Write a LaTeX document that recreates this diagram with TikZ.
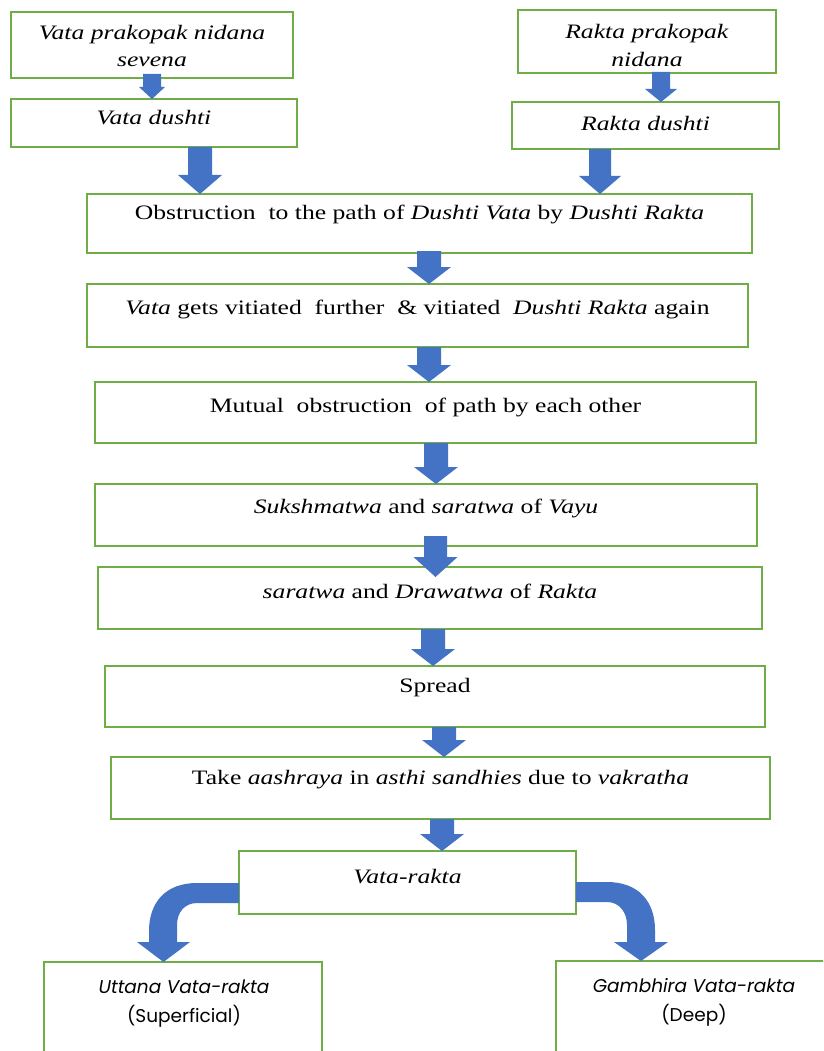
\documentclass[tikz,border=0pt]{standalone}
\usepackage{fontspec}
\setmainfont{Liberation Serif}[FakeStretch=1.25]
\newfontfamily\gothic{Poppins}
\usetikzlibrary{calc}
\definecolor{boxgreen}{HTML}{70AD47}
\definecolor{arrblue}{HTML}{4472C4}
\tikzset{
  box/.style={draw=boxgreen, line width=1.4pt, fill=white, inner sep=0pt, outer sep=0pt, anchor=north west},
  txt/.style={align=center, font=\fontsize{20.5}{27.5}\selectfont, inner sep=0pt},
  gtxt/.style={align=center, font=\gothic\fontsize{18.5}{29}\selectfont, inner sep=0pt},
  arr/.style={fill=arrblue},
}
% box: name, x1, y1, x2, y2 (pixels, y downwards)
\newcommand\mkbox[5]{\node[box, minimum width={#4pt-#2pt}, minimum height={#5pt-#3pt}] (#1) at (#2,-#3) {};}
% straight block arrow: from, to, x, shaft half, head half, head length, top extension, tip overshoot
\newcommand\varrow[8]{\fill[arr] let \p1=(#1.south), \p2=(#2.north) in
  ({#3pt-#4pt},{\y1+#7pt}) -- ({#3pt+#4pt},{\y1+#7pt}) -- ({#3pt+#4pt},{\y2-#8pt+#6pt}) -- ({#3pt+#5pt},{\y2-#8pt+#6pt})
  -- (#3pt,{\y2-#8pt}) -- ({#3pt-#5pt},{\y2-#8pt+#6pt}) -- ({#3pt-#4pt},{\y2-#8pt+#6pt}) -- cycle;}
\begin{document}
\begin{tikzpicture}[x=1pt,y=1pt]
\useasboundingbox (0,0) rectangle (823,-1051);
\clip (0,0) rectangle (823,-1051);
\fill[white] (0,0) rectangle (823,-1051);

\mkbox{b1}{11}{12}{293}{78}
\mkbox{b2}{518}{10}{776}{73}
\mkbox{b3}{11}{99}{297}{147}
\mkbox{b4}{512}{102}{779}{149}
\mkbox{b5}{87}{194}{752}{253}
\mkbox{b6}{87}{284}{748}{347}
\mkbox{b7}{95}{382}{756}{443}
\mkbox{b8}{95}{484}{757}{546}
\mkbox{b9}{98}{567}{762}{629}
\mkbox{b10}{105}{666}{765}{727}
\mkbox{b11}{111}{757}{770}{819}
\mkbox{b12}{239}{851}{576}{914}
\mkbox{b13}{44}{962}{322}{1080}
\mkbox{b14}{556}{961}{830}{1080}

\node[txt] (t1) at (152,-46) {\textit{Vata prakopak nidana}\\\textit{sevena}};
\node[txt] (t2) at (647,-45.5) {\textit{Rakta prakopak}\\\textit{nidana}};
\node[txt] (t3) at (154,-118) {\textit{Vata dushti}};
\node[txt] (t4) at (645.5,-124) {\textit{Rakta dushti}};
\node[txt] (t5) at (419.5,-214) {Obstruction\ \ to the path of \textit{Dushti Vata} by \textit{Dushti Rakta}};
\node[txt] (t6) at (417.5,-309) {\textit{Vata} gets vitiated\ \ further\ \ \& vitiated\ \ \textit{Dushti Rakta} again};
\node[txt] (t7) at (425.5,-407) {Mutual\ \ obstruction\ \ of path by each other};
\node[txt] (t8) at (426,-508) {\textit{Sukshmatwa} and \textit{saratwa} of \textit{Vayu}};
\node[txt] (t9) at (430,-591) {\textit{saratwa} and \textit{Drawatwa} of \textit{Rakta}};
\node[txt] (t10) at (435,-688) {Spread};
\node[txt] (t11) at (440.5,-780) {Take \textit{aashraya} in \textit{asthi sandhies} due to \textit{vakratha}};
\node[txt] (t12) at (407.5,-877) {\textit{Vata-rakta}};
\node[gtxt] (t13) at (184,-1003.5) {\textit{Uttana Vata-rakta}\\(Superficial)};
\node[gtxt] (t14) at (694,-1002.5) {\textit{Gambhira Vata-rakta}\\(Deep)};

\varrow{b1}{b3}{152}{9}{13}{12}{4}{0}
\varrow{b2}{b4}{661}{9}{16}{13}{1}{0}
\varrow{b3}{b5}{200}{12}{22}{19}{0}{0}
\varrow{b4}{b5}{600}{11}{21}{18}{0}{0}
\varrow{b5}{b6}{429}{12}{22}{17}{2}{0}
\varrow{b6}{b7}{429}{12}{22}{17}{0}{0}
\varrow{b7}{b8}{436}{12}{22}{17}{0}{0}
\varrow{b8}{b9}{435.5}{11.5}{22}{20}{10}{10}
\varrow{b9}{b10}{433}{12}{22}{17}{0}{0}
\varrow{b10}{b11}{444}{12}{22}{17}{0}{0}
\varrow{b11}{b12}{442}{12}{22}{17}{0}{0}

% bent arrows from Vata-rakta
\fill[arr] let \p1=(b12.north west), \p2=(b13.north) in
  (\x1,-883) -- (197,-883) .. controls (165,-883) and (149,-903) .. (149,-931)
  -- (149,-942) -- (137,-942) -- (163.5,\y2) -- (190,-942) -- (177,-942)
  -- (177,-925) .. controls (177,-912) and (185,-903) .. (197,-903) -- (\x1,-903) -- cycle;
\fill[arr] let \p1=(b12.north east), \p2=(b14.north) in
  (\x1,-882) -- (607,-882) .. controls (639,-882) and (655,-902) .. (655,-930)
  -- (655,-942) -- (668,-942) -- (641,\y2) -- (614,-942) -- (627,-942)
  -- (627,-925) .. controls (627,-912) and (619,-902) .. (607,-902) -- (\x1,-902) -- cycle;
\end{tikzpicture}
\end{document}
